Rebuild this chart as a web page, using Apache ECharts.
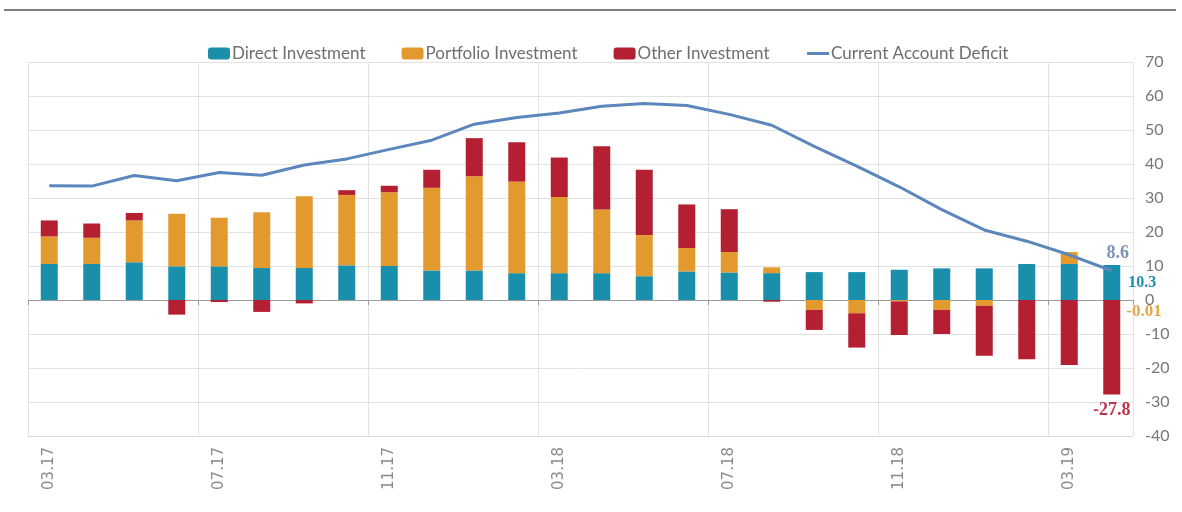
<!DOCTYPE html>
<html>
<head>
<meta charset="utf-8">
<script src="https://cdn.jsdelivr.net/npm/echarts@6/dist/echarts.min.js"></script>
<style>html,body{margin:0;padding:0;background:#fff;}#c{width:1182px;height:512px;}</style>
</head>
<body>
<div id="c"></div>
<script>
const months = ['03.17','04.17','05.17','06.17','07.17','08.17','09.17','10.17','11.17','12.17','01.18','02.18','03.18','04.18','05.18','06.18','07.18','08.18','09.18','10.18','11.18','12.18','01.19','02.19','03.19','04.19'];
const directInvestment = [10.6,10.6,11.1,9.9,9.9,9.4,9.4,10.2,10.0,8.7,8.7,7.9,7.9,7.9,7.0,8.4,8.1,7.9,8.2,8.2,8.9,9.3,9.3,10.6,10.6,10.3];
const portfolioInvestment = [8.1,7.7,12.3,15.5,14.3,16.4,21.1,20.7,21.7,24.3,27.7,26.9,22.4,18.7,12.1,6.9,6.0,1.7,-2.9,-3.9,-0.4,-2.9,-1.7,0.0,3.5,-0.01];
const otherInvestment = [4.7,4.2,2.2,-4.3,-0.6,-3.5,-1.0,1.4,1.9,5.3,11.2,11.6,11.6,18.6,19.2,12.8,12.6,-0.5,-5.9,-10.1,-9.9,-7.1,-14.7,-17.4,-19.1,-27.8];
const currentAccountDeficit = [33.6,33.5,36.6,35.1,37.5,36.7,39.7,41.5,44.3,47.0,51.7,53.7,55.0,57.0,57.8,57.2,54.6,51.4,45.2,39.4,33.3,26.6,20.6,17.3,13.3,8.6];
const yTicks = {min: -40, max: 70, step: 10};

const C_DIRECT = '#1a8fab', C_PORT = '#e29a2e', C_OTHER = '#b51f32', C_LINE = '#5b87bc';
const last = months.length - 1;
const labelFont = 'Liberation Serif';

function withLastLabel(arr, label) {
  return arr.map((v, i) => i === last ? {value: v, label: Object.assign({show: true, fontFamily: labelFont, fontWeight: 'bold', formatter: String(v)}, label)} : v);
}

const chart = echarts.init(document.getElementById('c'), null, {renderer: 'canvas'});
chart.setOption({
  animation: false,
  backgroundColor: '#fff',
  graphic: [{type: 'line', shape: {x1: 4, y1: 10, x2: 1176, y2: 10}, style: {stroke: '#555', lineWidth: 1.5}}],
  legend: {
    top: 40, left: 203, itemWidth: 22, itemHeight: 12, itemGap: 36,
    textStyle: {fontFamily: 'Lato', fontSize: 17, color: '#6e6e6e', padding: [0, 0, 0, -3]},
    data: ['Direct Investment', 'Portfolio Investment', 'Other Investment',
      {name: 'Current Account Deficit', itemStyle: {opacity: 0}, lineStyle: {width: 3}}]
  },
  grid: {left: 28, right: 49, top: 62, bottom: 76, containLabel: false},
  xAxis: [{
    type: 'category', data: months, boundaryGap: true, position: 'bottom',
    axisLine: {onZero: false, show: true, lineStyle: {color: '#d9d9d9'}},
    axisTick: {show: false},
    axisLabel: {interval: 3, rotate: 90, margin: 11, fontFamily: 'DejaVu Sans', fontSize: 15, color: '#8a8a8a'},
    splitLine: {show: true, interval: 3, lineStyle: {color: '#e2e2e2'}}
  }, {
    type: 'category', data: months, boundaryGap: true, position: 'bottom',
    axisLine: {onZero: true, show: true, lineStyle: {color: '#9a9a9a', width: 1}},
    axisTick: {show: true, interval: 3, length: 5, lineStyle: {color: '#9a9a9a'}},
    axisLabel: {show: false},
    splitLine: {show: false}
  }],
  yAxis: {
    type: 'value', position: 'right', min: yTicks.min, max: yTicks.max, interval: yTicks.step,
    axisLine: {show: false}, axisTick: {show: false},
    axisLabel: {margin: 12, fontFamily: 'Lato', fontSize: 16, color: '#777'},
    splitLine: {lineStyle: {color: '#e2e2e2'}}
  },
  series: [{
    name: 'Direct Investment', type: 'bar', stack: 'fin', barWidth: 17, xAxisIndex: 0,
    itemStyle: {color: C_DIRECT},
    data: withLastLabel(directInvestment, {position: 'right', distance: 8, color: C_DIRECT, fontSize: 16})
  }, {
    name: 'Portfolio Investment', type: 'bar', stack: 'fin', barWidth: 17, xAxisIndex: 0,
    itemStyle: {color: C_PORT},
    data: withLastLabel(portfolioInvestment, {position: 'right', distance: 6, offset: [0, 12], color: '#e6a64a', fontSize: 17})
  }, {
    name: 'Other Investment', type: 'bar', stack: 'fin', barWidth: 17, xAxisIndex: 0,
    itemStyle: {color: C_OTHER},
    data: withLastLabel(otherInvestment, {position: 'bottom', distance: 7, color: '#c0334a', fontSize: 18})
  }, {
    name: 'Current Account Deficit', type: 'line', xAxisIndex: 0, z: 5,
    showSymbol: true, symbol: 'circle', symbolSize: 0, smooth: false,
    lineStyle: {color: C_LINE, width: 3}, itemStyle: {color: C_LINE},
    data: withLastLabel(currentAccountDeficit, {position: 'top', distance: 8, offset: [6, 0], color: '#7a92b5', fontSize: 18, fontWeight: 'bold'})
  }]
});
</script>
</body>
</html>
